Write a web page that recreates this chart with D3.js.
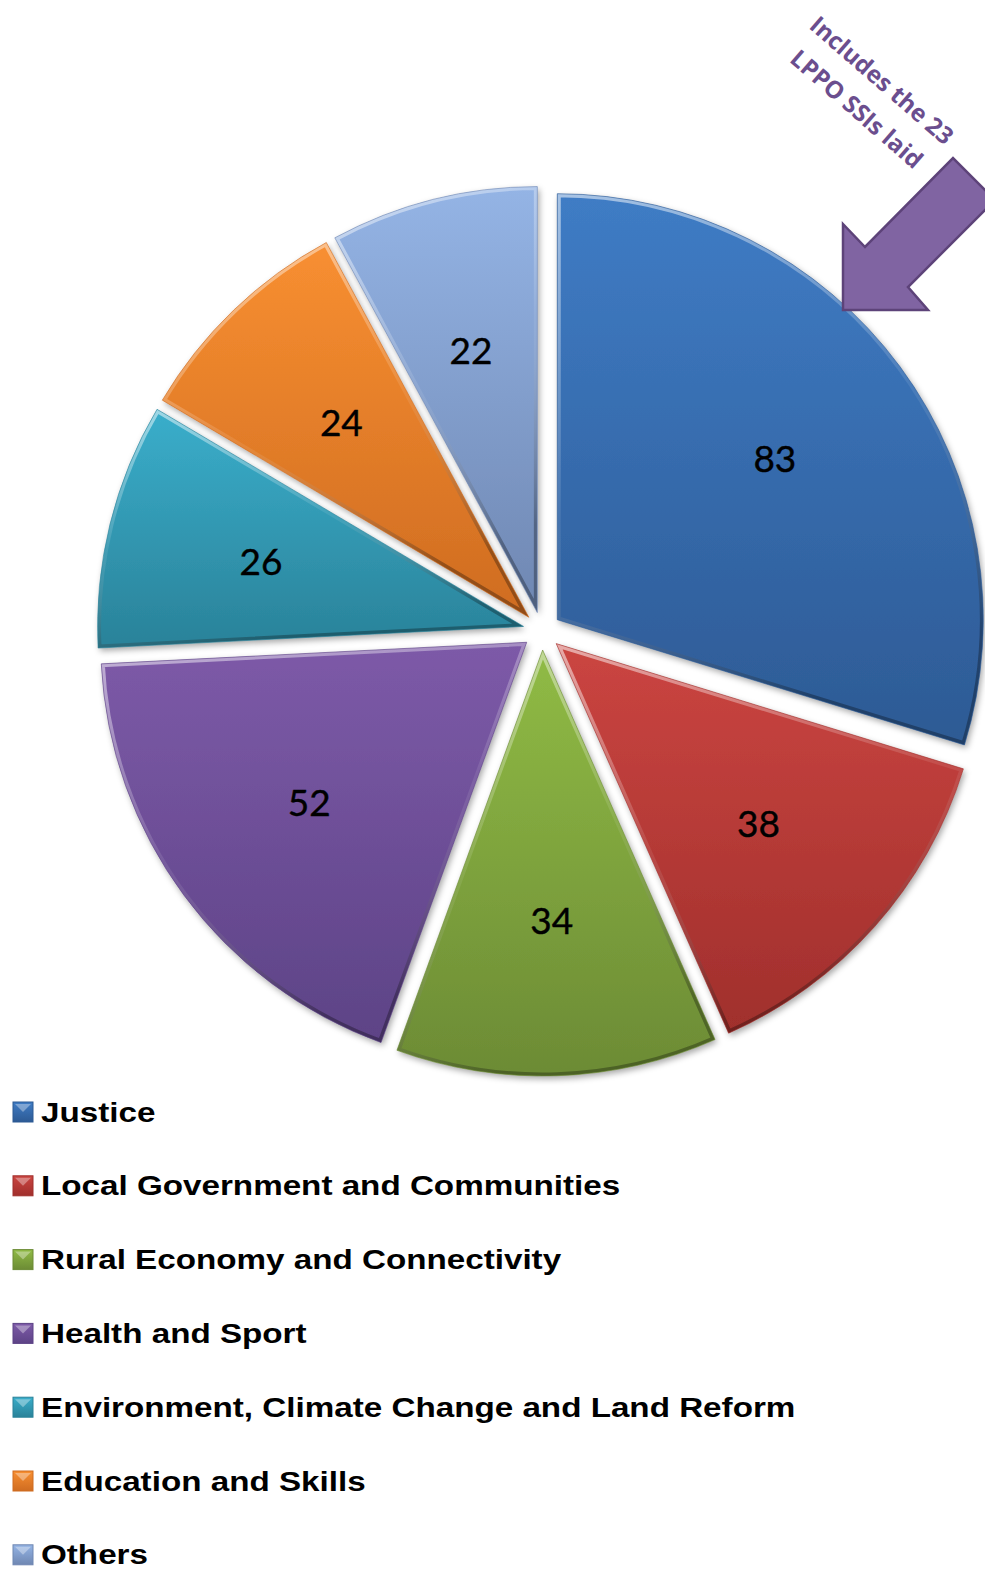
<!DOCTYPE html>
<html lang="en">
<head>
	<meta charset="utf-8">
	<title>SSIs laid by portfolio</title>
	<script src="https://d3js.org/d3.v7.min.js"></script>
	<style>
		body { margin: 0; background: #fff; }
		svg { display: block; }
	</style>
</head>
<body>
<script type="text/javascript">

// data
var categories = ["Justice", "Local Government and Communities", "Rural Economy and Connectivity",
                  "Health and Sport", "Environment, Climate Change and Land Reform",
                  "Education and Skills", "Others"];
var values = [83, 38, 34, 52, 26, 24, 22];
var noteLines = ["Includes the 23", "LPPO SSIs laid"];

// styles
var topColors    = ["#3f7cc5", "#cb4541", "#90bb45", "#7d5aa8", "#3aaecb", "#f88f31", "#94b4e5"];
var bottomColors = ["#2d5a94", "#a02f2c", "#6c8b35", "#5d4386", "#2a8299", "#cf6c21", "#6f87b2"];

var W = 985, H = 1571;
var cx = 542, cy = 631;
var radius = 426;
var explode = 19;
var labelR = radius * 0.635;

var svg = d3.select("body").append("svg")
    .attr("width", W)
    .attr("height", H);

svg.append("rect").attr("width", W).attr("height", H).attr("fill", "#fff");

var defs = svg.append("defs");

var shadow = defs.append("filter")
    .attr("id", "shadow")
    .attr("x", "-10%").attr("y", "-10%")
    .attr("width", "130%").attr("height", "130%");
shadow.append("feDropShadow")
    .attr("dx", 2).attr("dy", 3)
    .attr("stdDeviation", 3)
    .attr("flood-color", "#000")
    .attr("flood-opacity", 0.35);

topColors.forEach(function(c, i) {
    var g = defs.append("linearGradient")
        .attr("id", "grad-" + i)
        .attr("x1", 0).attr("y1", 0).attr("x2", 0).attr("y2", 1);
    g.append("stop").attr("offset", "0%").attr("stop-color", c);
    g.append("stop").attr("offset", "100%").attr("stop-color", bottomColors[i]);
});

// light-to-dark rim for the bevel look
var rim = defs.append("linearGradient")
    .attr("id", "rim")
    .attr("x1", 0).attr("y1", 0).attr("x2", 0.3).attr("y2", 1);
rim.append("stop").attr("offset", "0%").attr("stop-color", "#fff").attr("stop-opacity", 0.55);
rim.append("stop").attr("offset", "55%").attr("stop-color", "#fff").attr("stop-opacity", 0.08);
rim.append("stop").attr("offset", "100%").attr("stop-color", "#000").attr("stop-opacity", 0.3);

var pie = d3.pie().sort(null).value(function(d) { return d; });
var arcs = pie(values);

var arc = d3.arc().innerRadius(0).outerRadius(radius);

function midAngle(d) { return (d.startAngle + d.endAngle) / 2; }

var pieG = svg.append("g").attr("transform", "translate(" + cx + "," + cy + ")");

var slices = pieG.selectAll("g.slice")
    .data(arcs)
    .enter()
    .append("g")
    .attr("class", "slice")
    .attr("transform", function(d) {
        var a = midAngle(d);
        return "translate(" + (explode * Math.sin(a)) + "," + (-explode * Math.cos(a)) + ")";
    });

slices.append("clipPath")
    .attr("id", function(d, i) { return "clip-" + i; })
    .append("path")
    .attr("d", arc);

slices.append("path")
    .attr("d", arc)
    .attr("fill", function(d, i) { return "url(#grad-" + i + ")"; })
    .attr("filter", "url(#shadow)");

slices.append("path")
    .attr("d", arc)
    .attr("fill", "none")
    .attr("stroke", "url(#rim)")
    .attr("stroke-width", 7)
    .attr("clip-path", function(d, i) { return "url(#clip-" + i + ")"; });

slices.append("path")
    .attr("d", arc)
    .attr("fill", "none")
    .attr("stroke", function(d, i) { return bottomColors[i]; })
    .attr("stroke-opacity", 0.6)
    .attr("stroke-width", 1);

var labelFs = 37;
slices.append("text")
    .attr("x", function(d) { return labelR * Math.sin(midAngle(d)); })
    .attr("y", function(d) { return -labelR * Math.cos(midAngle(d)) + labelFs * 0.36; })
    .attr("text-anchor", "middle")
    .style("font-family", "Lato, 'Open Sans', sans-serif")
    .style("font-size", labelFs + "px")
    .style("fill", "#000")
    .style("stroke", "#000")
    .style("stroke-width", 0.4)
    .text(function(d) { return d.value; });

// annotation arrow pointing at Justice
svg.append("path")
    .attr("d", "M843,310 L843,224 L865,247 L953,158 L995,200 L908,287 L928,310 Z")
    .attr("fill", "#8064a2")
    .attr("stroke", "#5d4379")
    .attr("stroke-width", 2.5)
    .attr("stroke-linejoin", "miter");

var note = svg.append("g")
    .attr("transform", "translate(882,80) rotate(41)");

note.selectAll("text")
    .data(noteLines)
    .enter()
    .append("text")
    .attr("x", 0)
    .attr("y", function(d, i) { return i * 38 + 9; })
    .attr("text-anchor", "middle")
    .style("font-family", "'Open Sans', sans-serif")
    .style("font-weight", 700)
    .style("font-size", "24px")
    .style("fill", "#6b4e8e")
    .text(function(d) { return d; });

// legend
var legendTop = 1102, legendStep = 73.8;

var legend = svg.selectAll("g.legend")
    .data(categories)
    .enter()
    .append("g")
    .attr("class", "legend")
    .attr("transform", function(d, i) { return "translate(0," + (legendTop + i * legendStep) + ")"; });

legend.append("rect")
    .attr("x", 13).attr("y", 0)
    .attr("width", 20).attr("height", 20)
    .attr("fill", function(d, i) { return "url(#grad-" + i + ")"; })
    .attr("stroke", function(d, i) { return bottomColors[i]; })
    .attr("stroke-width", 1);

legend.append("path")
    .attr("d", "M15,2 L31,2 L23,10 Z")
    .attr("fill", "#fff")
    .attr("fill-opacity", 0.35);

legend.append("text")
    .attr("transform", "translate(41,19.5) scale(1.23,1)")
    .style("font-family", "'Liberation Sans', Arial, sans-serif")
    .style("font-weight", "bold")
    .style("font-size", "27px")
    .style("fill", "#000")
    .text(function(d) { return d; });

</script>
</body>
</html>
